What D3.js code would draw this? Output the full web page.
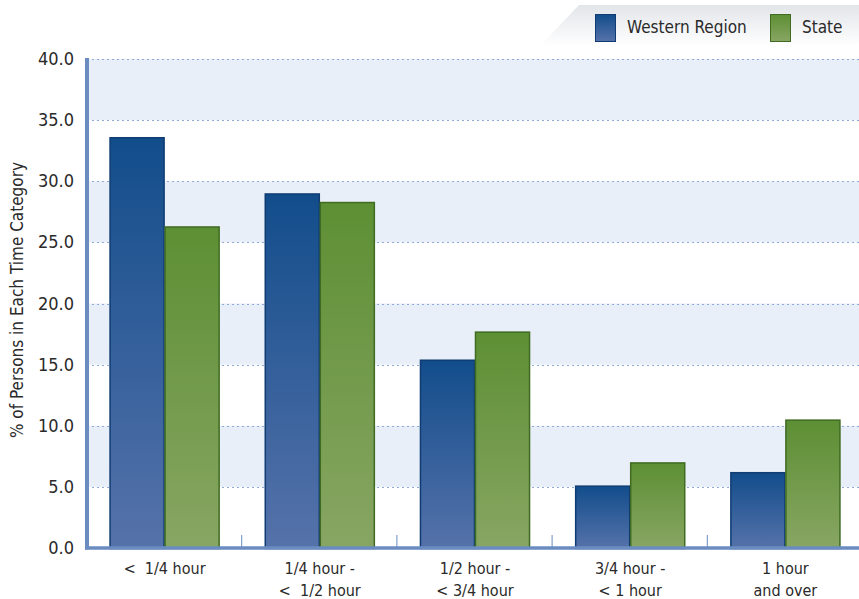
<!DOCTYPE html>
<html><head><meta charset="utf-8">
<script src="https://cdn.jsdelivr.net/npm/d3@7"></script>
<style>
html,body{margin:0;padding:0;background:#fff;}
svg{display:block;font-family:"Liberation Sans Narrow","DejaVu Sans Condensed","Roboto",sans-serif;}
</style></head>
<body><svg id="chart" width="859" height="599"></svg>
<script>
const categories = ["<  1/4 hour", "1/4 hour -\n<  1/2 hour", "1/2 hour -\n< 3/4 hour", "3/4 hour -\n< 1 hour", "1 hour\nand over"];
const seriesNames = ["Western Region", "State"];
const westernRegion = [33.6, 29.0, 15.4, 5.1, 6.2];
const state = [26.3, 28.3, 17.7, 7.0, 10.5];
const yTicks = [0, 5, 10, 15, 20, 25, 30, 35, 40];
const yTitle = "% of Persons in Each Time Category";

const svg = d3.select("#chart");
const x0 = 87, x1 = 863, yTop = 59, yBot = 548;

const defs = svg.append("defs");
function grad(id, top, bot){
  const g = defs.append("linearGradient").attr("id", id).attr("x1",0).attr("y1",0).attr("x2",0).attr("y2",1);
  g.append("stop").attr("offset","0%").attr("stop-color",top);
  g.append("stop").attr("offset","100%").attr("stop-color",bot);
}
grad("gBlue", "#124d8b", "#5672aa");
grad("gGreen", "#5d8f34", "#88a663");
grad("gLegend", "#e2e5e9", "#ffffff");

const y = d3.scaleLinear().domain([0, 40]).range([yBot, yTop]);
const xb = d3.scaleBand().domain(categories).range([x0, x1]).paddingInner(0).paddingOuter(0);
const xs = d3.scaleBand().domain(seriesNames).range([0, xb.bandwidth()]).paddingInner(0).paddingOuter(0.41);

// stripes
const bands = [[35,40],[25,30],[15,20],[5,10]];
svg.append("g").selectAll("rect").data(bands).join("rect")
  .attr("x", x0).attr("width", x1 - x0)
  .attr("y", d => y(d[1])).attr("height", d => y(d[0]) - y(d[1]))
  .attr("fill", "#e8eff8");

// gridlines
svg.append("g").selectAll("line").data(yTicks.filter(t => t > 0)).join("line")
  .attr("x1", x0).attr("x2", x1)
  .attr("y1", d => Math.round(y(d)) + 0.5).attr("y2", d => Math.round(y(d)) + 0.5)
  .attr("stroke", "#8fa9d8").attr("stroke-width", 1.2).attr("stroke-dasharray", "2,3");

// bars
const data = categories.map((c, i) => ({c, vals: [
  {s: seriesNames[0], v: westernRegion[i]},
  {s: seriesNames[1], v: state[i]}
]}));
const groups = svg.append("g").selectAll("g").data(data).join("g")
  .attr("transform", d => `translate(${xb(d.c)},0)`);
groups.selectAll("rect").data(d => d.vals).join("rect")
  .attr("x", d => xs(d.s) + 0.5)
  .attr("width", xs.bandwidth() - 1)
  .attr("y", d => y(d.v) + 0.5)
  .attr("height", d => y(0) - y(d.v))
  .attr("fill", d => d.s === seriesNames[0] ? "url(#gBlue)" : "url(#gGreen)")
  .attr("stroke", d => d.s === seriesNames[0] ? "#0f3c73" : "#3f6b22")
  .attr("stroke-width", 1.5);

// x ticks between groups
svg.append("g").selectAll("line").data(categories.slice(1)).join("line")
  .attr("x1", d => xb(d) - 0.5).attr("x2", d => xb(d) - 0.5)
  .attr("y1", yBot - 13).attr("y2", yBot)
  .attr("stroke", "#6a8cc0").attr("stroke-width", 1);

// axes lines
svg.append("line").attr("x1", x0).attr("x2", x0).attr("y1", yTop - 1).attr("y2", yBot + 1.5)
  .attr("stroke", "#6a8cc0").attr("stroke-width", 4);
svg.append("line").attr("x1", x0 - 2).attr("x2", 859).attr("y1", yBot).attr("y2", yBot)
  .attr("stroke", "#6a8cc0").attr("stroke-width", 3.5);

// y tick labels
svg.append("g").selectAll("text").data(yTicks).join("text")
  .attr("x", 74).attr("y", d => y(d) + 6)
  .attr("text-anchor", "end").attr("font-size", 18).attr("fill", "#2a2a2a")
  .text(d => d.toFixed(1));

// y title
svg.append("text").attr("transform", "translate(23,300) rotate(-90)")
  .attr("text-anchor", "middle").attr("font-size", 17).attr("fill", "#2a2a2a")
  .text(yTitle);

// x labels
const xl = svg.append("g").selectAll("text").data(categories).join("text")
  .attr("x", d => xb(d) + xb.bandwidth() / 2).attr("y", 574)
  .attr("text-anchor", "middle").attr("font-size", 16).attr("fill", "#2a2a2a");
xl.each(function(d){
  const t = d3.select(this);
  d.split("\n").forEach((line, i) => {
    t.append("tspan").attr("x", xb(d) + xb.bandwidth() / 2).attr("dy", i === 0 ? 0 : 22)
      .attr("xml:space", "preserve").text(line);
  });
});

// legend panel
svg.append("path").attr("d", "M540,46 L579,5 L859,5 L859,46 Z").attr("fill", "url(#gLegend)");
const leg = svg.append("g");
const legX = [595, 770];
seriesNames.forEach((s, i) => {
  leg.append("rect").attr("x", legX[i] + 0.5).attr("y", 14.5).attr("width", 20).attr("height", 27)
    .attr("fill", i === 0 ? "url(#gBlue)" : "url(#gGreen)")
    .attr("stroke", i === 0 ? "#0f3c73" : "#3f6b22").attr("stroke-width", 1);
  leg.append("text").attr("x", legX[i] + 32).attr("y", 33)
    .attr("font-size", 17).attr("fill", "#2a2a2a").text(s);
});
</script></body></html>
